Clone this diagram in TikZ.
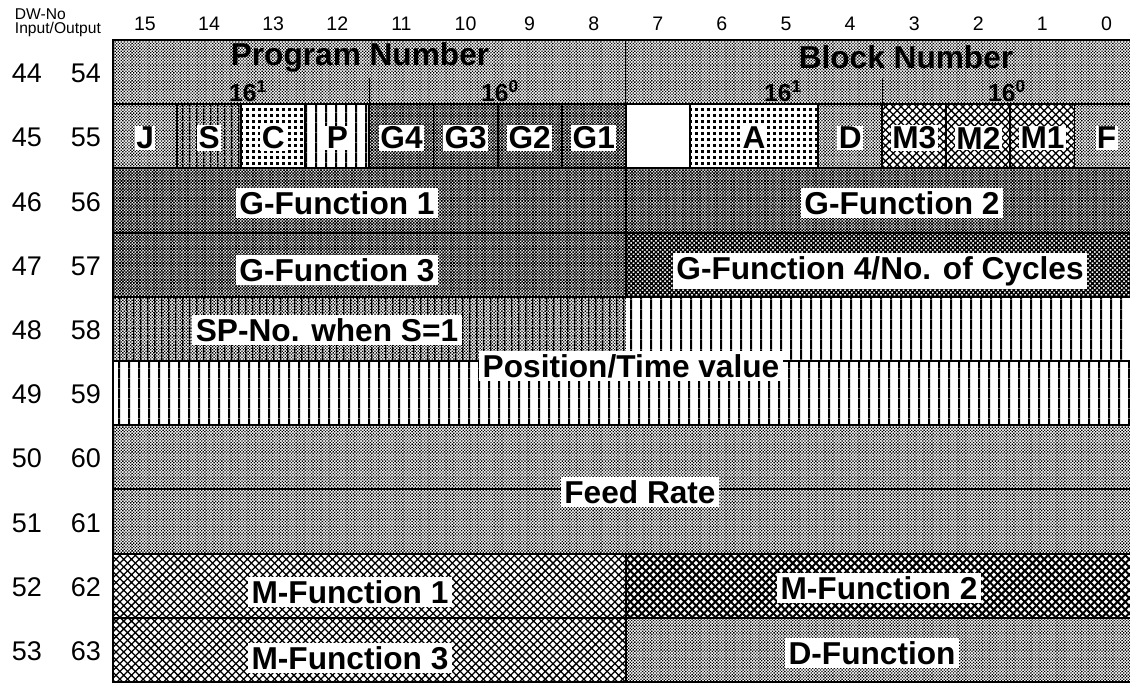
\documentclass[tikz,border=0pt]{standalone}
\usepackage{fontspec}
\setmainfont{Liberation Sans}
\usetikzlibrary{patterns}

\pgfdeclarepatternformonly{lightchk}{\pgfqpoint{0pt}{0pt}}{\pgfqpoint{4pt}{4pt}}{\pgfqpoint{2.2pt}{2.2pt}}{%
  \pgfpathrectangle{\pgfqpoint{0pt}{0pt}}{\pgfqpoint{0.95pt}{0.95pt}}%
  \pgfpathrectangle{\pgfqpoint{1.1pt}{1.1pt}}{\pgfqpoint{0.95pt}{0.95pt}}%
  \pgfusepath{fill}}
\pgfdeclarepatternformonly{darkchk}{\pgfqpoint{0pt}{0pt}}{\pgfqpoint{4pt}{4pt}}{\pgfqpoint{2.2pt}{2.2pt}}{%
  \pgfpathrectangle{\pgfqpoint{0pt}{0pt}}{\pgfqpoint{1.2pt}{1.2pt}}%
  \pgfpathrectangle{\pgfqpoint{1.1pt}{1.1pt}}{\pgfqpoint{1.2pt}{1.2pt}}%
  \pgfusepath{fill}}
\pgfdeclarepatternformonly{coarsechk}{\pgfqpoint{0pt}{0pt}}{\pgfqpoint{5pt}{5pt}}{\pgfqpoint{3.2pt}{3.2pt}}{%
  \pgfpathrectangle{\pgfqpoint{0pt}{0pt}}{\pgfqpoint{1.95pt}{1.95pt}}%
  \pgfpathrectangle{\pgfqpoint{1.6pt}{1.6pt}}{\pgfqpoint{1.95pt}{1.95pt}}%
  \pgfusepath{fill}}
\pgfdeclarepatternformonly{bigdots}{\pgfqpoint{0pt}{0pt}}{\pgfqpoint{4.5pt}{4.5pt}}{\pgfqpoint{4.5pt}{4.5pt}}{%
  \pgfpathrectangle{\pgfqpoint{0pt}{0pt}}{\pgfqpoint{2.2pt}{2.2pt}}%
  \pgfusepath{fill}}
\pgfdeclarepatternformonly{vbars}{\pgfqpoint{0pt}{0pt}}{\pgfqpoint{7pt}{7pt}}{\pgfqpoint{7pt}{7pt}}{%
  \pgfpathrectangle{\pgfqpoint{0pt}{0pt}}{\pgfqpoint{1.5pt}{7pt}}%
  \pgfusepath{fill}}
\pgfdeclarepatternformonly{thinbars}{\pgfqpoint{0pt}{0pt}}{\pgfqpoint{5pt}{5pt}}{\pgfqpoint{5pt}{5pt}}{%
  \pgfpathrectangle{\pgfqpoint{0pt}{0pt}}{\pgfqpoint{1.1pt}{5pt}}%
  \pgfusepath{fill}}
\pgfdeclarepatternformonly{xhatch}{\pgfqpoint{-1pt}{-1pt}}{\pgfqpoint{6.5pt}{6.5pt}}{\pgfqpoint{5.5pt}{5.5pt}}{%
  \pgfsetlinewidth{0.9pt}%
  \pgfpathmoveto{\pgfqpoint{-0.5pt}{-0.5pt}}\pgfpathlineto{\pgfqpoint{6pt}{6pt}}%
  \pgfpathmoveto{\pgfqpoint{-0.5pt}{6pt}}\pgfpathlineto{\pgfqpoint{6pt}{-0.5pt}}%
  \pgfusepath{stroke}}
\pgfdeclarepatternformonly{xhatchdark}{\pgfqpoint{-1pt}{-1pt}}{\pgfqpoint{6.5pt}{6.5pt}}{\pgfqpoint{5.5pt}{5.5pt}}{%
  \pgfsetlinewidth{1.4pt}%
  \pgfpathmoveto{\pgfqpoint{-0.5pt}{-0.5pt}}\pgfpathlineto{\pgfqpoint{6pt}{6pt}}%
  \pgfpathmoveto{\pgfqpoint{-0.5pt}{6pt}}\pgfpathlineto{\pgfqpoint{6pt}{-0.5pt}}%
  \pgfusepath{stroke}}

\begin{document}
\begin{tikzpicture}[x=0.025cm, y=-0.025cm,
    rule/.style={line width=1.4pt},
    lbl/.style={fill=white, inner sep=2.5pt, font=\fontsize{22.5}{24}\selectfont\bfseries},
    bit/.style={fill=white, inner sep=1pt, font=\fontsize{22.5}{24}\selectfont\bfseries},
    head/.style={font=\fontsize{22.5}{24}\selectfont\bfseries},
    hex/.style={font=\fontsize{17.5}{18}\selectfont\bfseries},
    colno/.style={font=\fontsize{13.9}{15}\selectfont},
    rowno/.style={font=\fontsize{19.2}{20}\selectfont}]
\useasboundingbox (0,0) rectangle (1130,683);

% row 44/54
\fill[pattern=lightchk] (113,40) rectangle (1138.6,104.2);
% row 45/55
\fill[pattern=lightchk] (113,104.2) rectangle (177.1,168.4);
\fill[pattern=lightchk] (177.1,104.2) rectangle (241.2,168.4);
\fill[pattern=thinbars] (177.1,104.2) rectangle (241.2,168.4);
\fill[pattern=bigdots] (241.2,104.2) rectangle (305.3,168.4);
\fill[pattern=vbars] (305.3,104.2) rectangle (369.4,168.4);
\fill[pattern=darkchk] (369.4,104.2) rectangle (625.8,168.4);
\fill[pattern=bigdots] (689.9,104.2) rectangle (818.1,168.4);
\fill[pattern=lightchk] (818.1,104.2) rectangle (882.2,168.4);
\fill[pattern=xhatch] (882.2,104.2) rectangle (1074.5,168.4);
\fill[pattern=lightchk] (1074.5,104.2) rectangle (1138.6,168.4);
% rows 46-47
\fill[pattern=darkchk] (113,168.4) rectangle (1138.6,232.6);
\fill[pattern=darkchk] (113,232.6) rectangle (625.8,296.8);
\fill[pattern=coarsechk] (625.8,232.6) rectangle (1138.6,296.8);
% rows 48-49
\fill[pattern=lightchk] (113,296.8) rectangle (625.8,361);
\fill[pattern=thinbars] (113,296.8) rectangle (625.8,361);
\fill[pattern=vbars] (625.8,296.8) rectangle (1138.6,361);
\fill[pattern=vbars] (113,361) rectangle (1138.6,425.2);
% rows 50-51
\fill[pattern=lightchk] (113,425.2) rectangle (1138.6,553.6);
% rows 52-53
\fill[pattern=xhatch] (113,553.6) rectangle (625.8,682);
\fill[pattern=xhatchdark] (625.8,553.6) rectangle (1138.6,617.8);
\fill[pattern=lightchk] (625.8,617.8) rectangle (1138.6,682);

% rules
\foreach \y in {104.2,168.4,232.6,296.8,361,425.2,489.4,553.6,617.8}
  \draw[rule] (113,\y) -- (1138.6,\y);
\foreach \x in {177.1,241.2,305.3,369.4,433.5,497.6,561.7,689.9,818.1,882.2,946.3,1010.4,1074.5}
  \draw[rule] (\x,104.2) -- (\x,168.4);
\draw[line width=0.6pt] (625.8,40) -- (625.8,104.2);
\draw[line width=0.6pt] (369.4,78) -- (369.4,104.2);
\draw[line width=0.6pt] (882.2,78) -- (882.2,104.2);
\draw[rule] (625.8,104.2) -- (625.8,296.8);
\draw[rule] (625.8,553.6) -- (625.8,682);
\draw[line width=1.5pt] (113,40) rectangle (1138.6,682);

% headings
\node[font=\fontsize{11.1}{12}\selectfont, anchor=west] (dwno) at (10,14) {DW-No};
\node[font=\fontsize{11.1}{12}\selectfont, anchor=west] (inout) at (10,29) {Input/Output};
\foreach \b [count=\i from 0] in {15,14,...,0}
  \node[colno] (col\b) at ({145+\i*64.1},23.5) {\b};
\foreach \a/\b [count=\k from 0] in {44/54,45/55,46/56,47/57,48/58,49/59,50/60,51/61,52/62,53/63} {
  \node[rowno] (in\a) at (27,{73.5+\k*64.2}) {\a};
  \node[rowno] (out\b) at (86,{73.5+\k*64.2}) {\b};
}

% fields
\node[head] (prognum) at (360,57) {Program Number};
\node[head] (blocknum) at (906,57) {Block Number};
\node[hex] (proghi) at (248,91) {16\textsuperscript{1}};
\node[hex] (proglo) at (500,91) {16\textsuperscript{0}};
\node[hex] (blockhi) at (783,91) {16\textsuperscript{1}};
\node[hex] (blocklo) at (1007,91) {16\textsuperscript{0}};

\node[bit] (bJ) at (145.1,138) {J};
\node[bit] (bS) at (209.2,138) {S};
\node[bit] (bC) at (273.3,138) {C};
\node[bit] (bP) at (337.4,138) {P};
\node[bit] (bG4) at (401.5,138) {G4};
\node[bit] (bG3) at (465.6,138) {G3};
\node[bit] (bG2) at (529.7,138) {G2};
\node[bit] (bG1) at (593.8,138) {G1};
\node[bit] (bA) at (754,138) {A};
\node[bit] (bD) at (850.2,138) {D};
\node[bit] (bM3) at (914.3,138) {M3};
\node[bit] (bM2) at (978.4,138) {M2};
\node[bit] (bM1) at (1042.5,138) {M1};
\node[bit] (bF) at (1106.6,138) {F};

\node[lbl] (gfa) at (337,203) {G-Function 1};
\node[lbl] (gfb) at (902,203) {G-Function 2};
\node[lbl] (gfc) at (337,270) {G-Function 3};
\node[lbl] (gfd) at (880,271) {G-Function 4/No. of Cycles};
\node[lbl] (spno) at (327,330) {SP-No. when S=1};
\node[lbl] (postime) at (631,366) {Position/Time value};
\node[lbl] (feed) at (640,492) {Feed Rate};
\node[lbl] (mfa) at (350,592) {M-Function 1};
\node[lbl] (mfb) at (879,588) {M-Function 2};
\node[lbl] (mfc) at (350,658) {M-Function 3};
\node[lbl] (dfun) at (872,653) {D-Function};
\end{tikzpicture}
\end{document}
